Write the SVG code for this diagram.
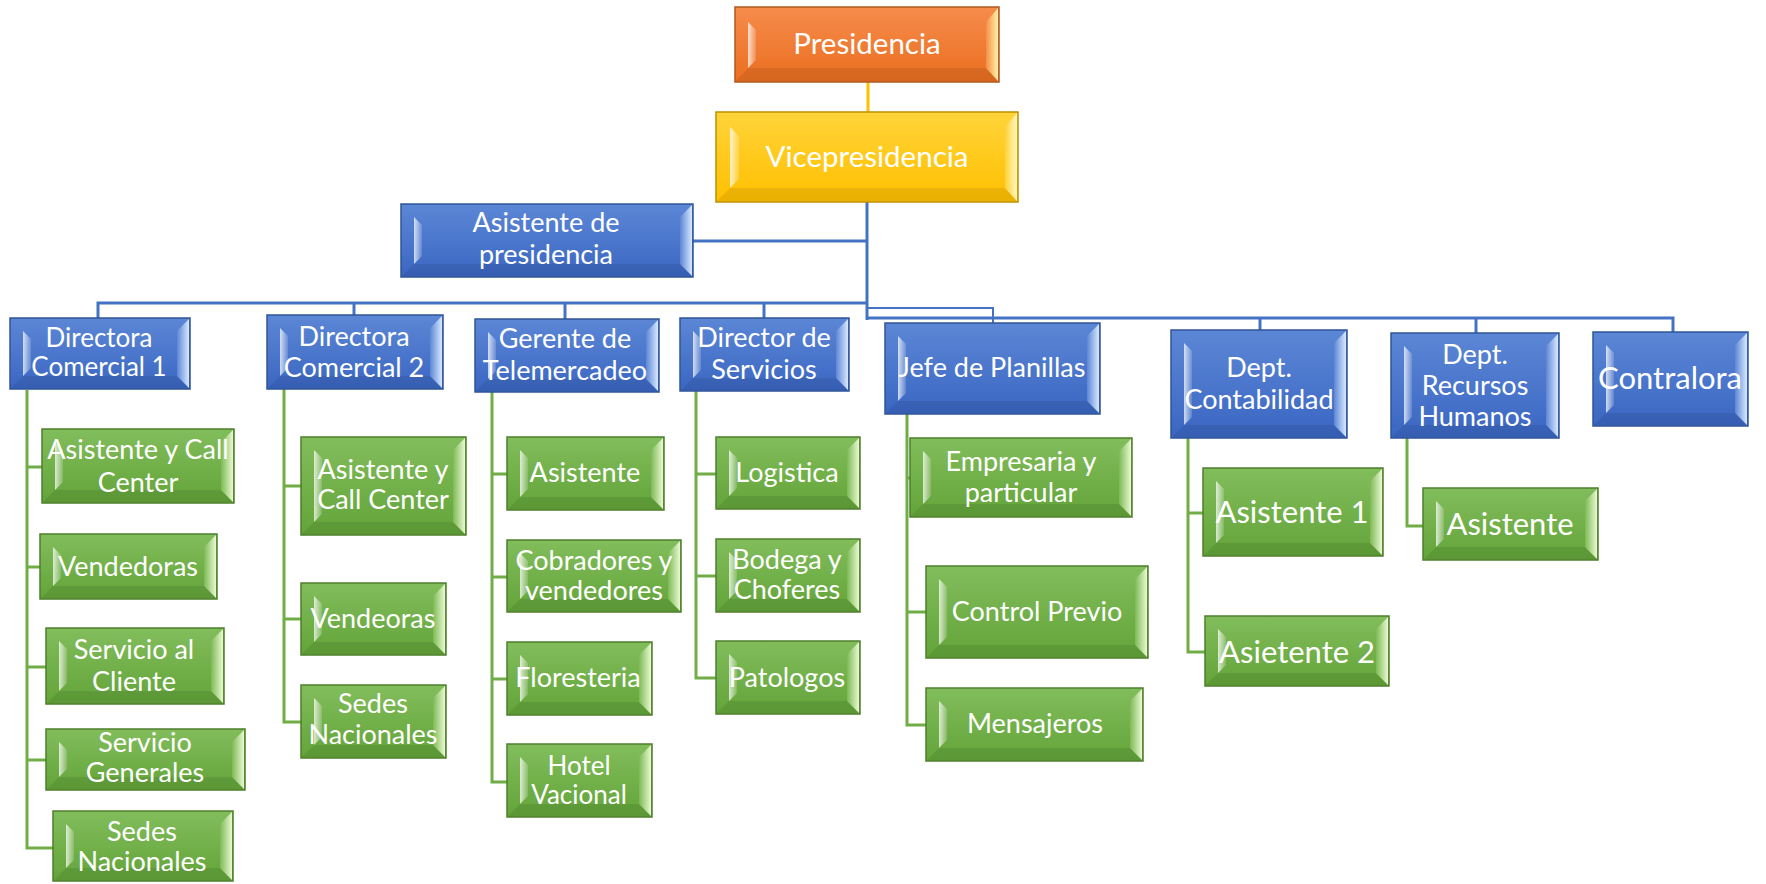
<svg xmlns="http://www.w3.org/2000/svg" width="1766" height="884" viewBox="0 0 1766 884">
<defs>
<linearGradient id="gBlue" x1="0" y1="0" x2="0" y2="1"><stop offset="0" stop-color="#5C87D6"/><stop offset="1" stop-color="#3A66C2"/></linearGradient>
<linearGradient id="gGreen" x1="0" y1="0" x2="0" y2="1"><stop offset="0" stop-color="#82BD5C"/><stop offset="1" stop-color="#63A439"/></linearGradient>
<linearGradient id="gOrange" x1="0" y1="0" x2="0" y2="1"><stop offset="0" stop-color="#F68C4C"/><stop offset="1" stop-color="#EA6E1F"/></linearGradient>
<linearGradient id="gGold" x1="0" y1="0" x2="0" y2="1"><stop offset="0" stop-color="#FFD43A"/><stop offset="1" stop-color="#FFC000"/></linearGradient>
<linearGradient id="hBlue" x1="0" y1="0" x2="1" y2="0"><stop offset="0" stop-color="#5C87D6"/><stop offset="1" stop-color="#D8E8FF"/></linearGradient>
<linearGradient id="hGreen" x1="0" y1="0" x2="1" y2="0"><stop offset="0" stop-color="#7DBA55"/><stop offset="1" stop-color="#EAF8D2"/></linearGradient>
<linearGradient id="hOrange" x1="0" y1="0" x2="1" y2="0"><stop offset="0" stop-color="#F59045"/><stop offset="1" stop-color="#FFF0A8"/></linearGradient>
<linearGradient id="hGold" x1="0" y1="0" x2="1" y2="0"><stop offset="0" stop-color="#FFD23A"/><stop offset="1" stop-color="#FFF7C0"/></linearGradient>
<linearGradient id="lHi" x1="0" y1="0" x2="1" y2="0"><stop offset="0" stop-color="#FFFFFF" stop-opacity="0.75"/><stop offset="1" stop-color="#FFFFFF" stop-opacity="0.15"/></linearGradient>
</defs>
<style>
.cb{fill:none;stroke:#4472C4;stroke-width:3}
.cbt{fill:none;stroke:#4472C4;stroke-width:2}
.cg{fill:none;stroke:#70AD47;stroke-width:3}
.cy{fill:none;stroke:#FFC000;stroke-width:3}
.blue .b{fill:url(#gBlue);stroke:#2F5597;stroke-width:1.5}
.green .b{fill:url(#gGreen);stroke:#4E7F2D;stroke-width:1.5}
.orange .b{fill:url(#gOrange);stroke:#AE5A21;stroke-width:1.5}
.gold .b{fill:url(#gGold);stroke:#BF9000;stroke-width:1.5}
.blue .r{fill:url(#hBlue)}
.green .r{fill:url(#hGreen)}
.orange .r{fill:url(#hOrange)}
.gold .r{fill:url(#hGold)}
.l{fill:url(#lHi)}
.d{fill:#000;fill-opacity:0.08}
text{font-family:Lato,"Open Sans","Liberation Sans",sans-serif;fill:#FFFFFF;text-anchor:middle;font-size:27px}
.sm{font-size:26px}
.big{font-size:31px}
.top{font-size:29.5px}
</style>

<g id="connectors">
<path class="cy" d="M868,82V112"/>
<path class="cb" d="M867,202V320"/>
<path class="cb" d="M693,241H867"/>
<path class="cb" d="M98,318V303H867"/>
<path class="cb" d="M354,315V303"/>
<path class="cb" d="M565,319V303"/>
<path class="cb" d="M764,318V303"/>
<path class="cbt" d="M867,308H993V323"/>
<path class="cb" d="M867,318H1673V332"/>
<path class="cb" d="M1260,318V330"/>
<path class="cb" d="M1476,318V333"/>
<path class="cg" d="M27,390V848H53M27,467H42M27,567H40M27,667H46M27,760H46"/>
<path class="cg" d="M284,389V722H301M284,486H301M284,619H301"/>
<path class="cg" d="M492,392V782H507M492,474H507M492,577H507M492,679H507"/>
<path class="cg" d="M696,391V678H716M696,474H716M696,576H716"/>
<path class="cg" d="M907,414V725H926M907,478H910M907,612H926"/>
<path class="cg" d="M1188,438V652H1205M1188,513H1203"/>
<path class="cg" d="M1407,438V526H1423"/>
</g>

<g id="n-presidencia" class="orange">
<rect class="b" x="735" y="7" width="264" height="75"/>
<polygon class="d" points="736,81 748,68 986,68 998,81"/>
<polygon class="l" points="748,22 756,30 756,60 748,68"/>
<polygon class="r" points="986,22 998,8 998,81 986,68"/>
<text class="top" x="867" y="44" dy="0.35em">Presidencia</text>
</g>

<g id="n-vicepresidencia" class="gold">
<rect class="b" x="716" y="112" width="302" height="90"/>
<polygon class="d" points="717,201 730,188 1005,188 1017,201"/>
<polygon class="l" points="730,127 739,136 739,179 730,188"/>
<polygon class="r" points="1005,127 1017,113 1017,201 1005,188"/>
<text class="top" x="867" y="157" dy="0.35em">Vicepresidencia</text>
</g>

<g id="n-asistente-presidencia" class="blue">
<rect class="b" x="401" y="204" width="292" height="73"/>
<polygon class="d" points="402,276 414,264 680,264 692,276"/>
<polygon class="l" points="414,217 422,225 422,256 414,264"/>
<polygon class="r" points="680,217 692,205 692,276 680,264"/>
<text x="546" y="223" dy="0.35em">Asistente de</text>
<text x="546" y="255" dy="0.35em">presidencia</text>
</g>

<g id="n-dc1" class="blue">
<rect class="b" x="10" y="318" width="180" height="71"/>
<polygon class="d" points="11,388 23,376 177,376 189,388"/>
<polygon class="l" points="23,331 31,339 31,368 23,376"/>
<polygon class="r" points="177,331 189,319 189,388 177,376"/>
<text class="sm" x="99" y="338" dy="0.35em">Directora</text>
<text class="sm" x="99" y="367" dy="0.35em">Comercial 1</text>
</g>

<g id="n-dc2" class="blue">
<rect class="b" x="267" y="315" width="176" height="74"/>
<polygon class="d" points="268,388 280,376 430,376 442,388"/>
<polygon class="l" points="280,328 288,336 288,368 280,376"/>
<polygon class="r" points="430,328 442,316 442,388 430,376"/>
<text x="354" y="337" dy="0.35em">Directora</text>
<text x="354" y="368" dy="0.35em">Comercial 2</text>
</g>

<g id="n-gerente" class="blue">
<rect class="b" x="475" y="319" width="184" height="73"/>
<polygon class="d" points="476,391 488,379 646,379 658,391"/>
<polygon class="l" points="488,332 496,340 496,371 488,379"/>
<polygon class="r" points="646,332 658,320 658,391 646,379"/>
<text x="565" y="339" dy="0.35em">Gerente de</text>
<text x="565" y="371" dy="0.35em">Telemercadeo</text>
</g>

<g id="n-director-servicios" class="blue">
<rect class="b" x="680" y="318" width="169" height="73"/>
<polygon class="d" points="681,390 693,378 836,378 848,390"/>
<polygon class="l" points="693,331 701,339 701,370 693,378"/>
<polygon class="r" points="836,331 848,319 848,390 836,378"/>
<text x="764" y="338" dy="0.35em">Director de</text>
<text x="764" y="370" dy="0.35em">Servicios</text>
</g>

<g id="n-jefe-planillas" class="blue">
<rect class="b" x="885" y="323" width="215" height="91"/>
<polygon class="d" points="886,413 898,401 1087,401 1099,413"/>
<polygon class="l" points="898,336 906,344 906,393 898,401"/>
<polygon class="r" points="1087,336 1099,324 1099,413 1087,401"/>
<text x="992" y="368" dy="0.35em">Jefe de Planillas</text>
</g>

<g id="n-contabilidad" class="blue">
<rect class="b" x="1171" y="330" width="176" height="108"/>
<polygon class="d" points="1172,437 1184,425 1334,425 1346,437"/>
<polygon class="l" points="1184,343 1192,351 1192,417 1184,425"/>
<polygon class="r" points="1334,343 1346,331 1346,437 1334,425"/>
<text x="1259" y="368" dy="0.35em">Dept.</text>
<text x="1259" y="400" dy="0.35em">Contabilidad</text>
</g>

<g id="n-rrhh" class="blue">
<rect class="b" x="1391" y="333" width="168" height="105"/>
<polygon class="d" points="1392,437 1404,425 1546,425 1558,437"/>
<polygon class="l" points="1404,346 1412,354 1412,417 1404,425"/>
<polygon class="r" points="1546,346 1558,334 1558,437 1546,425"/>
<text x="1475" y="355" dy="0.35em">Dept.</text>
<text x="1475" y="386" dy="0.35em">Recursos</text>
<text x="1475" y="417" dy="0.35em">Humanos</text>
</g>

<g id="n-contralora" class="blue">
<rect class="b" x="1593" y="332" width="155" height="94"/>
<polygon class="d" points="1594,425 1606,413 1735,413 1747,425"/>
<polygon class="l" points="1606,345 1614,353 1614,405 1606,413"/>
<polygon class="r" points="1735,345 1747,333 1747,425 1735,413"/>
<text class="big" x="1670" y="378" dy="0.35em">Contralora</text>
</g>

<g id="n-dc1-asistente" class="green">
<rect class="b" x="42" y="429" width="192" height="74"/>
<polygon class="d" points="43,502 55,490 221,490 233,502"/>
<polygon class="l" points="55,442 63,450 63,482 55,490"/>
<polygon class="r" points="221,442 233,430 233,502 221,490"/>
<text x="138" y="450" dy="0.35em">Asistente y Call</text>
<text x="138" y="483" dy="0.35em">Center</text>
</g>

<g id="n-dc1-vendedoras" class="green">
<rect class="b" x="40" y="534" width="177" height="65"/>
<polygon class="d" points="41,598 53,586 204,586 216,598"/>
<polygon class="l" points="53,547 61,555 61,578 53,586"/>
<polygon class="r" points="204,547 216,535 216,598 204,586"/>
<text x="128" y="567" dy="0.35em">Vendedoras</text>
</g>

<g id="n-dc1-servicio-cliente" class="green">
<rect class="b" x="46" y="628" width="178" height="76"/>
<polygon class="d" points="47,703 59,691 211,691 223,703"/>
<polygon class="l" points="59,641 67,649 67,683 59,691"/>
<polygon class="r" points="211,641 223,629 223,703 211,691"/>
<text x="134" y="650" dy="0.35em">Servicio al</text>
<text x="134" y="682" dy="0.35em">Cliente</text>
</g>

<g id="n-dc1-servicio-generales" class="green">
<rect class="b" x="46" y="729" width="199" height="61"/>
<polygon class="d" points="47,789 59,777 232,777 244,789"/>
<polygon class="l" points="59,742 67,750 67,769 59,777"/>
<polygon class="r" points="232,742 244,730 244,789 232,777"/>
<text x="145" y="743" dy="0.35em">Servicio</text>
<text x="145" y="773" dy="0.35em">Generales</text>
</g>

<g id="n-dc1-sedes" class="green">
<rect class="b" x="53" y="811" width="180" height="70"/>
<polygon class="d" points="54,880 66,868 220,868 232,880"/>
<polygon class="l" points="66,824 74,832 74,860 66,868"/>
<polygon class="r" points="220,824 232,812 232,880 220,868"/>
<text x="142" y="832" dy="0.35em">Sedes</text>
<text x="142" y="862" dy="0.35em">Nacionales</text>
</g>

<g id="n-dc2-asistente" class="green">
<rect class="b" x="301" y="437" width="165" height="98"/>
<polygon class="d" points="302,534 314,522 453,522 465,534"/>
<polygon class="l" points="314,450 322,458 322,514 314,522"/>
<polygon class="r" points="453,450 465,438 465,534 453,522"/>
<text x="383" y="470" dy="0.35em">Asistente y</text>
<text x="383" y="500" dy="0.35em">Call Center</text>
</g>

<g id="n-dc2-vendeoras" class="green">
<rect class="b" x="301" y="583" width="145" height="72"/>
<polygon class="d" points="302,654 314,642 433,642 445,654"/>
<polygon class="l" points="314,596 322,604 322,634 314,642"/>
<polygon class="r" points="433,596 445,584 445,654 433,642"/>
<text x="373" y="619" dy="0.35em">Vendeoras</text>
</g>

<g id="n-dc2-sedes" class="green">
<rect class="b" x="301" y="685" width="145" height="73"/>
<polygon class="d" points="302,757 314,745 433,745 445,757"/>
<polygon class="l" points="314,698 322,706 322,737 314,745"/>
<polygon class="r" points="433,698 445,686 445,757 433,745"/>
<text x="373" y="704" dy="0.35em">Sedes</text>
<text x="373" y="735" dy="0.35em">Nacionales</text>
</g>

<g id="n-ger-asistente" class="green">
<rect class="b" x="507" y="437" width="157" height="73"/>
<polygon class="d" points="508,509 520,497 651,497 663,509"/>
<polygon class="l" points="520,450 528,458 528,489 520,497"/>
<polygon class="r" points="651,450 663,438 663,509 651,497"/>
<text x="585" y="473" dy="0.35em">Asistente</text>
</g>

<g id="n-ger-cobradores" class="green">
<rect class="b" x="507" y="540" width="174" height="72"/>
<polygon class="d" points="508,611 520,599 668,599 680,611"/>
<polygon class="l" points="520,553 528,561 528,591 520,599"/>
<polygon class="r" points="668,553 680,541 680,611 668,599"/>
<text x="594" y="561" dy="0.35em">Cobradores y</text>
<text x="594" y="591" dy="0.35em">vendedores</text>
</g>

<g id="n-ger-floresteria" class="green">
<rect class="b" x="507" y="642" width="145" height="73"/>
<polygon class="d" points="508,714 520,702 639,702 651,714"/>
<polygon class="l" points="520,655 528,663 528,694 520,702"/>
<polygon class="r" points="639,655 651,643 651,714 639,702"/>
<text x="578" y="678" dy="0.35em">Floresteria</text>
</g>

<g id="n-ger-hotel" class="green">
<rect class="b" x="507" y="744" width="145" height="73"/>
<polygon class="d" points="508,816 520,804 639,804 651,816"/>
<polygon class="l" points="520,757 528,765 528,796 520,804"/>
<polygon class="r" points="639,757 651,745 651,816 639,804"/>
<text class="sm" x="579" y="766" dy="0.35em">Hotel</text>
<text class="sm" x="579" y="795" dy="0.35em">Vacional</text>
</g>

<g id="n-ds-logistica" class="green">
<rect class="b" x="716" y="437" width="144" height="72"/>
<polygon class="d" points="717,508 729,496 847,496 859,508"/>
<polygon class="l" points="729,450 737,458 737,488 729,496"/>
<polygon class="r" points="847,450 859,438 859,508 847,496"/>
<text x="787" y="473" dy="0.35em">Logistica</text>
</g>

<g id="n-ds-bodega" class="green">
<rect class="b" x="716" y="539" width="144" height="73"/>
<polygon class="d" points="717,611 729,599 847,599 859,611"/>
<polygon class="l" points="729,552 737,560 737,591 729,599"/>
<polygon class="r" points="847,552 859,540 859,611 847,599"/>
<text x="787" y="560" dy="0.35em">Bodega y</text>
<text x="787" y="590" dy="0.35em">Choferes</text>
</g>

<g id="n-ds-patologos" class="green">
<rect class="b" x="716" y="641" width="144" height="73"/>
<polygon class="d" points="717,713 729,701 847,701 859,713"/>
<polygon class="l" points="729,654 737,662 737,693 729,701"/>
<polygon class="r" points="847,654 859,642 859,713 847,701"/>
<text x="787" y="678" dy="0.35em">Patologos</text>
</g>

<g id="n-jp-empresaria" class="green">
<rect class="b" x="910" y="438" width="222" height="79"/>
<polygon class="d" points="911,516 923,504 1119,504 1131,516"/>
<polygon class="l" points="923,451 931,459 931,496 923,504"/>
<polygon class="r" points="1119,451 1131,439 1131,516 1119,504"/>
<text x="1021" y="462" dy="0.35em">Empresaria y</text>
<text x="1021" y="493" dy="0.35em">particular</text>
</g>

<g id="n-jp-control" class="green">
<rect class="b" x="926" y="566" width="222" height="92"/>
<polygon class="d" points="927,657 939,645 1135,645 1147,657"/>
<polygon class="l" points="939,579 947,587 947,637 939,645"/>
<polygon class="r" points="1135,579 1147,567 1147,657 1135,645"/>
<text x="1037" y="612" dy="0.35em">Control Previo</text>
</g>

<g id="n-jp-mensajeros" class="green">
<rect class="b" x="926" y="688" width="217" height="73"/>
<polygon class="d" points="927,760 939,748 1130,748 1142,760"/>
<polygon class="l" points="939,701 947,709 947,740 939,748"/>
<polygon class="r" points="1130,701 1142,689 1142,760 1130,748"/>
<text x="1035" y="724" dy="0.35em">Mensajeros</text>
</g>

<g id="n-ct-asistente1" class="green">
<rect class="b" x="1203" y="468" width="180" height="88"/>
<polygon class="d" points="1204,555 1216,543 1370,543 1382,555"/>
<polygon class="l" points="1216,481 1224,489 1224,535 1216,543"/>
<polygon class="r" points="1370,481 1382,469 1382,555 1370,543"/>
<text class="big" x="1292" y="512" dy="0.35em">Asistente 1</text>
</g>

<g id="n-ct-asietente2" class="green">
<rect class="b" x="1205" y="616" width="184" height="70"/>
<polygon class="d" points="1206,685 1218,673 1376,673 1388,685"/>
<polygon class="l" points="1218,629 1226,637 1226,665 1218,673"/>
<polygon class="r" points="1376,629 1388,617 1388,685 1376,673"/>
<text class="big" x="1297" y="652" dy="0.35em">Asietente 2</text>
</g>

<g id="n-rh-asistente" class="green">
<rect class="b" x="1423" y="488" width="175" height="72"/>
<polygon class="d" points="1424,559 1436,547 1585,547 1597,559"/>
<polygon class="l" points="1436,501 1444,509 1444,539 1436,547"/>
<polygon class="r" points="1585,501 1597,489 1597,559 1585,547"/>
<text class="big" x="1510" y="524" dy="0.35em">Asistente</text>
</g>
</svg>
